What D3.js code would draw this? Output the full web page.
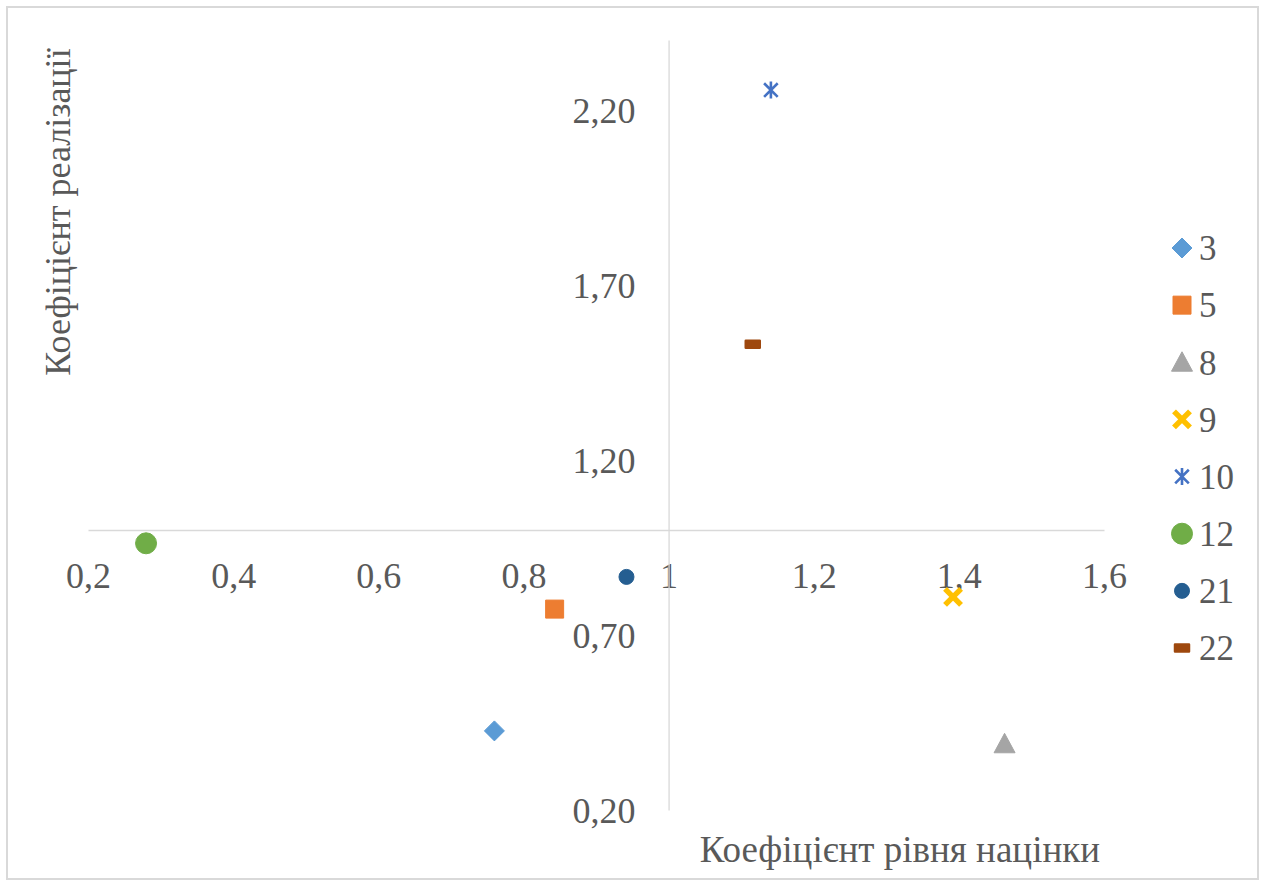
<!DOCTYPE html>
<html>
<head>
<meta charset="utf-8">
<script src="https://cdn.jsdelivr.net/npm/d3@7"></script>
<style>
  html, body { margin: 0; padding: 0; background: #fff; }
  svg { display: block; }
</style>
</head>
<body>
<svg id="chart" width="1265" height="886"></svg>
<script>
// Series (one point each): name, x = коефіцієнт рівня націнки, y = коефіцієнт реалізації
const seriesNames = ["3", "5", "8", "9", "10", "12", "21", "22"];
const xValues = [0.76, 0.843, 1.463, 1.392, 1.141, 0.28, 0.942, 1.116];
const yValues = [0.426, 0.774, 0.389, 0.809, 2.257, 0.962, 0.866, 1.531];
const seriesColors = ["#5B9BD5", "#ED7D31", "#A5A5A5", "#FFC000", "#4472C4", "#70AD47", "#255E91", "#9E480E"];
const markerKinds = ["diamond", "square", "triangle", "cross", "star", "circle", "smallCircle", "dash"];

const xTicks = [0.2, 0.4, 0.6, 0.8, 1.0, 1.2, 1.4, 1.6];
const yTicks = [0.2, 0.7, 1.2, 1.7, 2.2];
const xTitle = "Коефіцієнт рівня націнки";
const yTitle = "Коефіцієнт реалізації";

const FONT = "'Liberation Serif', 'Times New Roman', Tinos, 'DejaVu Serif', serif";
const TEXT_COLOR = "#595959";

const W = 1265, H = 886;
const svg = d3.select("#chart");

// outer chart frame
svg.append("rect")
  .attr("x", 7).attr("y", 7).attr("width", W - 14).attr("height", H - 14)
  .attr("fill", "#fff").attr("stroke", "#d9d9d9").attr("stroke-width", 2);

const x = d3.scaleLinear().domain([0.2, 1.6]).range([88, 1104]);
const y = d3.scaleLinear().domain([0.2, 2.4]).range([810, 40]);

const commaFmt = (digits) => (v) => {
  const s = digits === null ? String(+v.toFixed(1)) : v.toFixed(digits);
  return s.replace(".", ",");
};

// horizontal axis crosses at y = 1
const gx = svg.append("g")
  .attr("transform", `translate(0,${y(1)})`)
  .call(d3.axisBottom(x).tickValues(xTicks).tickFormat(commaFmt(null)).tickSize(0).tickPadding(0));
gx.attr("font-family", FONT).attr("font-size", 36);
gx.select(".domain").attr("stroke", "#d9d9d9").attr("stroke-width", 1.3);
gx.selectAll(".tick text")
  .attr("y", 45).attr("dy", "0.35em").attr("fill", TEXT_COLOR);

// vertical axis crosses at x = 1
const gy = svg.append("g")
  .attr("transform", `translate(${x(1)},0)`)
  .call(d3.axisLeft(y).tickValues(yTicks).tickFormat(commaFmt(2)).tickSize(0).tickPadding(33));
gy.attr("font-family", FONT).attr("font-size", 36);
gy.select(".domain").attr("stroke", "#d9d9d9").attr("stroke-width", 1.3);
gy.selectAll(".tick text")
  .attr("dy", "0.35em").attr("fill", TEXT_COLOR);

// marker shapes, drawn as d3.symbol types
function makeType(kind) {
  return {
    draw(ctx) {
      switch (kind) {
        case "diamond": {
          const r = 10;
          ctx.moveTo(0, -r); ctx.lineTo(r, 0); ctx.lineTo(0, r); ctx.lineTo(-r, 0); ctx.closePath();
          break;
        }
        case "square": {
          const r = 9;
          ctx.rect(-r, -r, 2 * r, 2 * r);
          break;
        }
        case "triangle": {
          const r = 10.5;
          ctx.moveTo(0, -r); ctx.lineTo(r, r * 0.85); ctx.lineTo(-r, r * 0.85); ctx.closePath();
          break;
        }
        case "circle": {
          const r = 10.5;
          ctx.moveTo(r, 0); ctx.arc(0, 0, r, 0, 2 * Math.PI);
          break;
        }
        case "smallCircle": {
          const r = 7.5;
          ctx.moveTo(r, 0); ctx.arc(0, 0, r, 0, 2 * Math.PI);
          break;
        }
        case "dash": {
          ctx.rect(-7, -3.5, 14, 7);
          break;
        }
        case "cross": {
          const r = 8;
          ctx.moveTo(-r, -r); ctx.lineTo(r, r); ctx.moveTo(r, -r); ctx.lineTo(-r, r);
          break;
        }
        case "star": {
          const r = 8.5;
          ctx.moveTo(-r * 0.8, -r * 0.8); ctx.lineTo(r * 0.8, r * 0.8);
          ctx.moveTo(r * 0.8, -r * 0.8); ctx.lineTo(-r * 0.8, r * 0.8);
          ctx.moveTo(0, -r); ctx.lineTo(0, r);
          break;
        }
      }
    }
  };
}

function styleMarker(sel, i) {
  const kind = markerKinds[i];
  const c = seriesColors[i];
  if (kind === "cross") {
    sel.attr("fill", "none").attr("stroke", c).attr("stroke-width", 5.5).attr("stroke-linecap", "butt");
  } else if (kind === "star") {
    sel.attr("fill", "none").attr("stroke", c).attr("stroke-width", 2.6);
  } else if (kind === "dash") {
    sel.attr("fill", c).attr("stroke", c).attr("stroke-width", 2.5).attr("stroke-linejoin", "round");
  } else {
    sel.attr("fill", c).attr("stroke", c).attr("stroke-width", 1).attr("stroke-linejoin", "round");
  }
}

// data points
const pts = svg.append("g");
seriesNames.forEach((name, i) => {
  const p = pts.append("path")
    .attr("d", d3.symbol().type(makeType(markerKinds[i]))())
    .attr("transform", `translate(${x(xValues[i])},${y(yValues[i])})`);
  styleMarker(p, i);
});

// legend
const legendY = d3.scalePoint().domain(seriesNames).range([248, 648]);
const lg = svg.append("g").attr("font-family", FONT).attr("font-size", 35);
seriesNames.forEach((name, i) => {
  const row = lg.append("g").attr("transform", `translate(1182,${legendY(name)})`);
  const m = row.append("path").attr("d", d3.symbol().type(makeType(markerKinds[i]))());
  styleMarker(m, i);
  row.append("text")
    .attr("x", 17).attr("dy", "0.35em").attr("fill", TEXT_COLOR)
    .text(name);
});

// axis titles
svg.append("text")
  .attr("x", 1100).attr("y", 862)
  .attr("text-anchor", "end")
  .attr("font-family", FONT).attr("font-size", 37).attr("fill", TEXT_COLOR)
  .text(xTitle);

svg.append("text")
  .attr("transform", "translate(70,212) rotate(-90)")
  .attr("text-anchor", "middle")
  .attr("font-family", FONT).attr("font-size", 36).attr("fill", TEXT_COLOR)
  .text(yTitle);
</script>
</body>
</html>
